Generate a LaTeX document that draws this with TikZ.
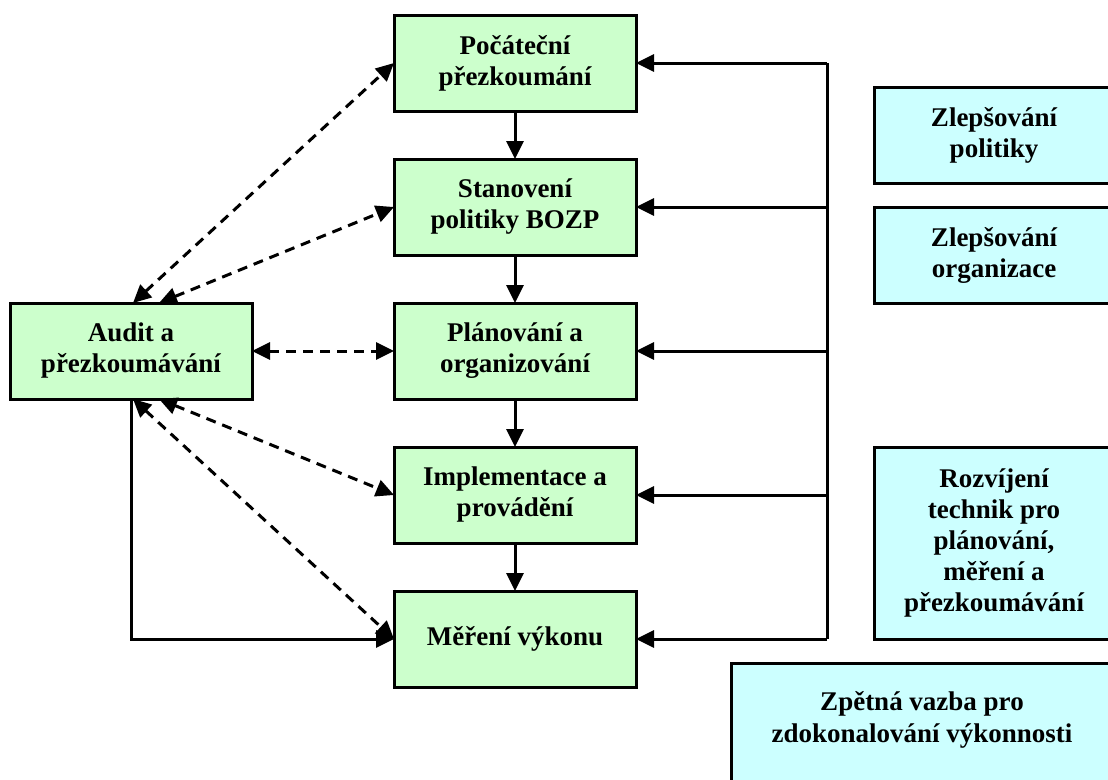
\documentclass[tikz,border=0pt]{standalone}
\usepackage{fontspec}
\setmainfont{Liberation Serif}
\usetikzlibrary{arrows.meta,calc}
\definecolor{boxgreen}{HTML}{CCFFCC}
\definecolor{boxcyan}{HTML}{CCFFFF}
\tikzset{
  gbox/.style={draw=black, line width=3pt, fill=boxgreen, rectangle,
    minimum width=242pt, minimum height=96pt, inner sep=0pt, outer sep=0pt,
    align=center, font=\fontsize{27}{31}\selectfont\bfseries},
  cbox/.style={gbox, fill=boxcyan, minimum width=240pt},
  plain/.style={draw=black, line width=3pt},
  tip/.style={-{Triangle[length=18pt,width=17pt]}},
  bothtips/.style={{Triangle[length=18pt,width=17pt]}-{Triangle[length=18pt,width=17pt]}},
  dsh/.style={plain, dash pattern=on 10pt off 7pt},
  lbl/.style={align=center, inner sep=0pt, font=\fontsize{27}{32}\selectfont\bfseries}
}
\begin{document}
\begin{tikzpicture}[x=1pt,y=-1pt]
\useasboundingbox (0,0) rectangle (1108,779);
\clip (0,0) rectangle (1108,779);

% main process chain
\node[gbox] (g1) at (515,63)  {Počáteční\\přezkoumání};
\node[gbox] (g2) at (515,207) {Stanovení\\politiky BOZP};
\node[gbox] (g3) at (515,351) {Plánování a\\organizování};
\node[gbox] (g4) at (515,495) {Implementace a\\provádění};
\node[gbox] (g5) at (515,639) {Měření výkonu};

% audit box
\node[gbox] (audit) at (131,351) {Audit a\\přezkoumávání};

% improvement boxes on the right
\node[cbox] (c1) at (994,135) {Zlepšování\\politiky};
\node[cbox] (c2) at (994,255) {Zlepšování\\organizace};
\node[cbox, minimum height=192pt] (c3) at (994,543) {Rozvíjení\\technik pro\\plánování,\\měření a\\přezkoumávání};
\node[cbox, minimum width=382pt, minimum height=160pt, anchor=north] (c4) at (922,663) {};
\node[lbl] (c4t) at (922,720) {Zpětná vazba pro\\zdokonalování výkonnosti};

% downward flow
\foreach \a/\b in {g1/g2,g2/g3,g3/g4,g4/g5}
  \draw[plain,tip] (\a.south) -- (\b.north);

% feedback bus on the right
\coordinate (fbtop) at (827,63);
\coordinate (fbbot) at (827,639);
\draw[plain] (fbtop) -- (fbbot);
\foreach \g in {g1,g2,g3,g4,g5}
  \draw[plain,tip] (\g.east -| fbtop) -- (\g.east);

% audit loop into measurement
\draw[plain,tip] (audit.south) |- (g5.west);

% dashed two-way links between audit and each stage
\draw[dsh,bothtips] ([xshift=2pt]audit.north) -- (g1.west);
\draw[dsh,bothtips] ([xshift=28pt]audit.north) -- (g2.west);
\draw[dsh,bothtips] (audit.east) -- (g3.west);
\draw[dsh,bothtips] ([xshift=28pt]audit.south) -- (g4.west);
\draw[dsh,bothtips] ([xshift=2pt]audit.south) -- (g5.west);
\end{tikzpicture}
\end{document}
